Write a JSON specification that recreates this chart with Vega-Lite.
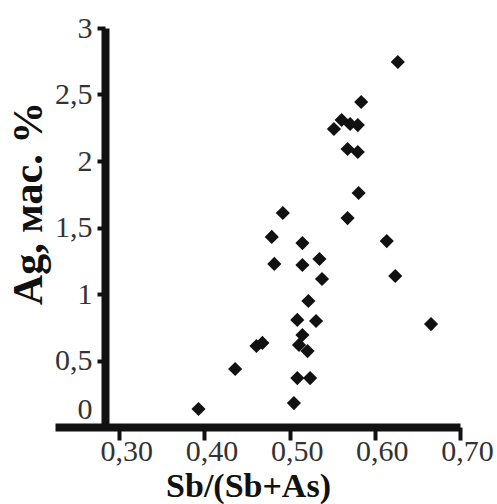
{
  "$schema": "https://vega.github.io/schema/vega-lite/v6.json",
  "width": 405,
  "height": 399,
  "autosize": {"type": "none"},
  "padding": {"left": 55, "top": 28, "right": 37, "bottom": 77},
  "background": "white",
  "config": {"view": {"stroke": null}},
  "data": {
    "values": [
      {"ratio": 0.393, "ag": 0.135},
      {"ratio": 0.436, "ag": 0.436},
      {"ratio": 0.461, "ag": 0.609},
      {"ratio": 0.468, "ag": 0.632},
      {"ratio": 0.479, "ag": 1.429},
      {"ratio": 0.482, "ag": 1.226},
      {"ratio": 0.492, "ag": 1.609},
      {"ratio": 0.505, "ag": 0.18},
      {"ratio": 0.509, "ag": 0.368},
      {"ratio": 0.524, "ag": 0.368},
      {"ratio": 0.509, "ag": 0.805},
      {"ratio": 0.511, "ag": 0.617},
      {"ratio": 0.515, "ag": 0.692},
      {"ratio": 0.521, "ag": 0.571},
      {"ratio": 0.515, "ag": 1.383},
      {"ratio": 0.515, "ag": 1.218},
      {"ratio": 0.522, "ag": 0.947},
      {"ratio": 0.531, "ag": 0.797},
      {"ratio": 0.535, "ag": 1.263},
      {"ratio": 0.538, "ag": 1.113},
      {"ratio": 0.552, "ag": 2.241},
      {"ratio": 0.561, "ag": 2.308},
      {"ratio": 0.571, "ag": 2.278},
      {"ratio": 0.58, "ag": 2.27},
      {"ratio": 0.584, "ag": 2.444},
      {"ratio": 0.568, "ag": 2.09},
      {"ratio": 0.58, "ag": 2.068},
      {"ratio": 0.581, "ag": 1.759},
      {"ratio": 0.568, "ag": 1.571},
      {"ratio": 0.614, "ag": 1.398},
      {"ratio": 0.624, "ag": 1.135},
      {"ratio": 0.627, "ag": 2.744},
      {"ratio": 0.666, "ag": 0.774}
    ]
  },
  "mark": {"type": "point", "shape": "diamond", "filled": true, "color": "#111111", "opacity": 1, "size": 200},
  "encoding": {
    "x": {
      "field": "ratio",
      "type": "quantitative",
      "scale": {"domain": [0.2245, 0.7], "nice": false, "zero": false},
      "axis": {
        "title": "Sb/(Sb+As)",
        "titleFont": "Liberation Serif",
        "titleFontSize": 34,
        "titleFontWeight": "bold",
        "titleColor": "#111111",
        "titleX": 193,
        "titleY": 69,
        "titleBaseline": "alphabetic",
        "values": [0.3, 0.4, 0.5, 0.6, 0.7],
        "labelExpr": "replace(format(datum.value, '.2f'), '.', ',')",
        "labelFont": "Liberation Serif",
        "labelFontSize": 30,
        "labelColor": "#333333",
        "labelPadding": -4,
        "labelOffset": 7,
        "labelFlush": false,
        "labelOverlap": false,
        "domainColor": "#111111",
        "domainWidth": 8,
        "tickColor": "#111111",
        "tickWidth": 4,
        "tickSize": 13,
        "grid": false
      }
    },
    "y": {
      "field": "ag",
      "type": "quantitative",
      "scale": {"domain": [0, 3], "nice": false},
      "axis": {
        "title": "Ag, мас. %",
        "titleFont": "Liberation Serif",
        "titleFontSize": 42,
        "titleFontWeight": "bold",
        "titleColor": "#111111",
        "titleAngle": -90,
        "titleBaseline": "middle",
        "titleAlign": "center",
        "titleX": -77,
        "titleY": 175,
        "offset": -50,
        "values": [0, 0.5, 1, 1.5, 2, 2.5, 3],
        "labelExpr": "replace(toString(datum.value), '.', ',')",
        "labelFont": "Liberation Serif",
        "labelFontSize": 30,
        "labelColor": "#333333",
        "labelPadding": 5,
        "labelOffset": {"condition": {"test": "datum.value === 0", "value": -18}, "value": 0},
        "labelFlush": false,
        "labelOverlap": false,
        "domainColor": "#111111",
        "domainWidth": 8,
        "tickColor": "#111111",
        "tickWidth": 4,
        "tickSize": 8,
        "tickOpacity": {"condition": {"test": "datum.value === 0", "value": 0}, "value": 1},
        "grid": false
      }
    }
  }
}
